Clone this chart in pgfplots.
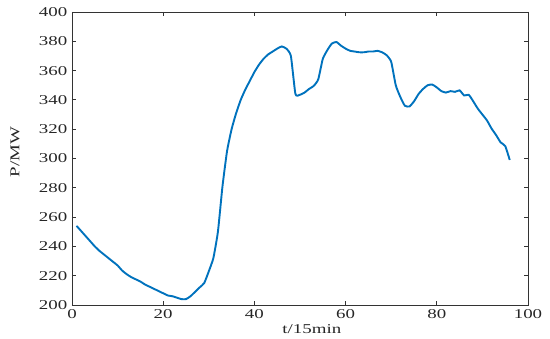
\documentclass[border=0pt]{standalone}
\usepackage{fontspec}
\setmainfont{Liberation Serif}[FakeStretch=1.4]
\usepackage{pgfplots}
\pgfplotsset{compat=1.18}
\definecolor{mblue}{RGB}{0,114,189}
\begin{document}
\fontsize{13.5pt}{15pt}\selectfont
\begin{tikzpicture}
\useasboundingbox (-72pt,-34pt) rectangle (478pt,305pt);
\begin{axis}[
  scale only axis,
  width=456pt, height=293pt,
  xmin=0, xmax=100, ymin=200, ymax=400,
  xtick={0,20,...,100}, ytick={200,220,...,400},
  tick align=inside,
  major tick length=4pt,
  /pgf/number format/assume math mode=true,
  tick label style={font=\fontsize{13.5pt}{15pt}\selectfont, text=black!85},
  axis line style={black!80, line width=0.9pt},
  every tick/.style={black!80, line width=0.9pt},
  xlabel={t/15min}, ylabel={P/MW},
  label style={font=\fontsize{13.5pt}{15pt}\selectfont, text=black!85},
  xlabel style={at={(axis description cs:0.526,-0.0956)}, anchor=base},
  ylabel style={at={(axis description cs:-0.125,0.522)}, anchor=center, rotate=0},
  ylabel style={rotate=0},
]
\addplot[mblue, line width=1.9pt, smooth, tension=0.3] coordinates {
(1,254) (2,250.5) (3,247) (4,243.5) (5,240) (6,237) (7,234.5) (8,232) (9,229.5) (10,227)
(11,223.5) (12,221) (13,219) (14,217.5) (15,216) (16,214) (17,212.5) (18,211) (19,209.5) (20,208)
(21,206.5) (22,206) (23,205) (24,204) (25,204) (26,206) (27,209) (28,212) (29,215) (30,223)
(31,232) (32,250) (33,281) (34,305) (35,320) (36,331) (37,340) (38,347) (39,353) (40,359)
(41,364) (42,368) (43,371) (44,373) (45,375) (46,376.5) (47,375) (48,370) (49,344) (50,343.5)
(51,345) (52,347.5) (53,349.5) (54,354) (55,368) (56,374) (57,378.5) (58,379.5) (59,377) (60,375)
(61,373.5) (62,373) (63,372.5) (64,372.5) (65,373) (66,373) (67,373.5) (68,372.5) (69,370.5) (70,366)
(71,350) (72,342) (73,336) (74,335.5) (75,339) (76,344) (77,347.5) (78,350) (79,350.5) (80,348.5)
(81,346) (82,345) (83,346) (84,345.5) (85,346.5) (86,343) (87,343.5) (88,339) (89,334) (90,330)
(91,326) (92,320.5) (93,316) (94,311) (95,308.5) (96,299)
};
\end{axis}
\end{tikzpicture}
\end{document}
